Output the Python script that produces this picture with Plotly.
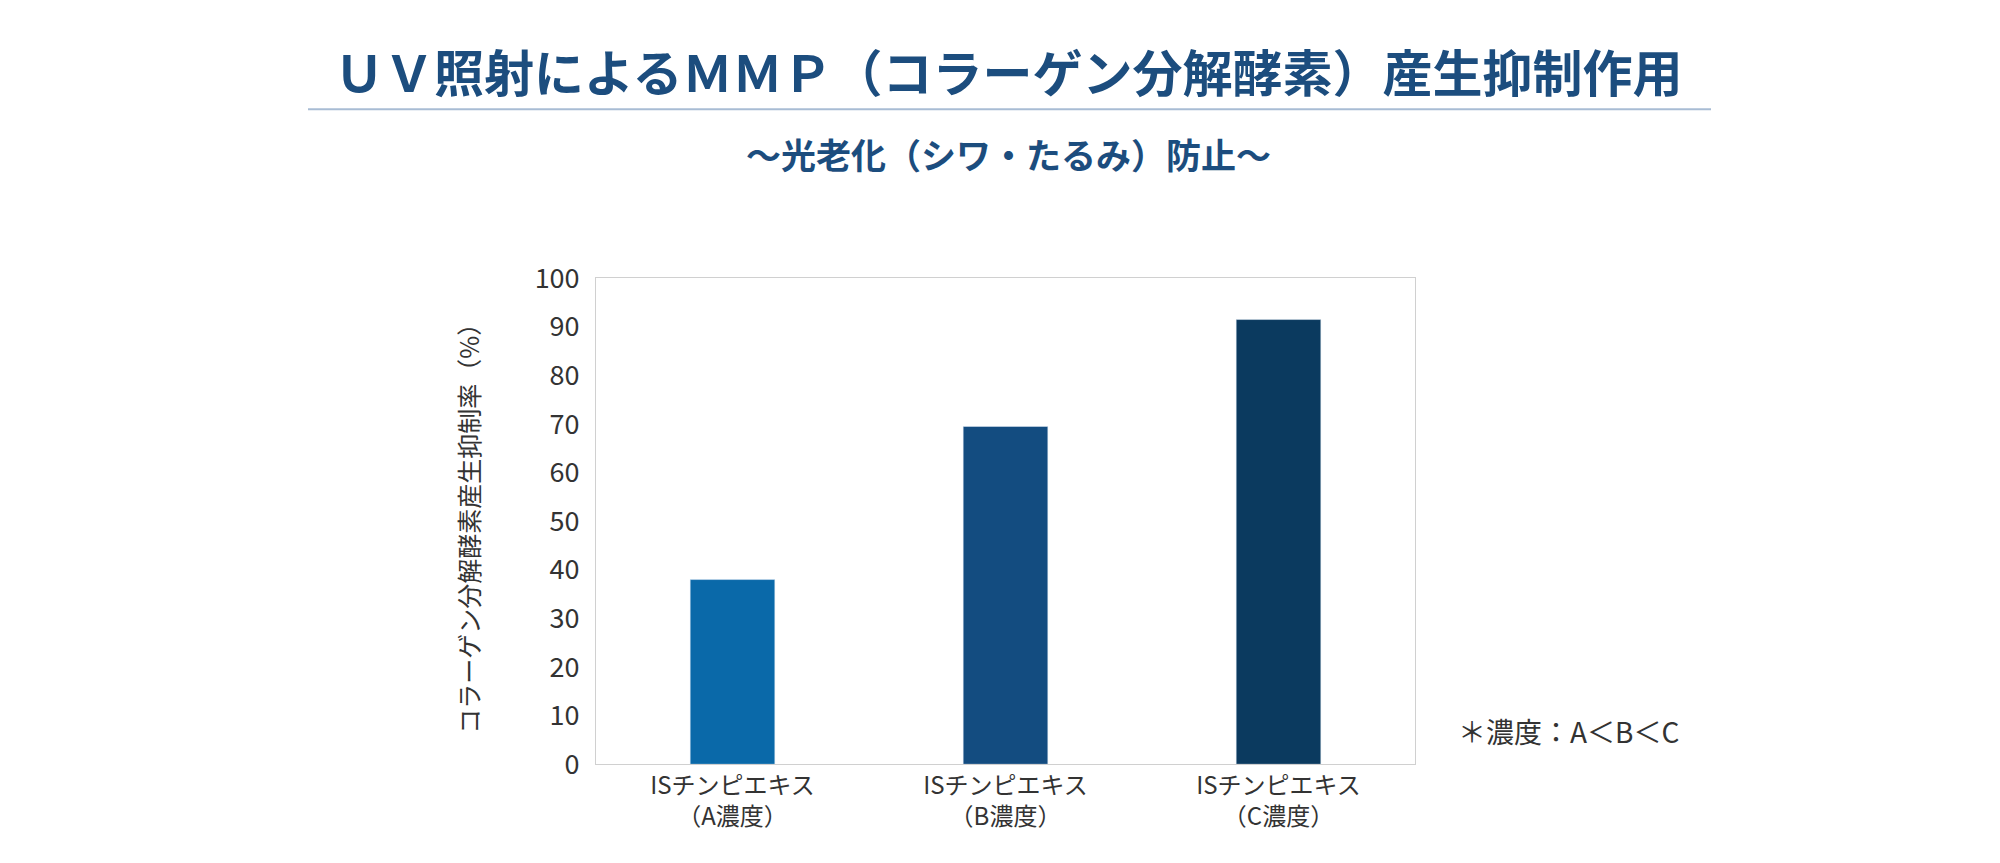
import plotly.graph_objects as go

categories = ["ISチンピエキス<br>（A濃度）", "ISチンピエキス<br>（B濃度）", "ISチンピエキス<br>（C濃度）"]
values = [38, 69.5, 91.5]
bar_colors = ["#0a69a9", "#134c80", "#0b3a5f"]
y_ticks = list(range(0, 101, 10))

FONT = "Noto Sans CJK JP"
W, H = 2000, 863

fig = go.Figure(go.Bar(
    x=categories, y=values, marker_color=bar_colors, width=0.31,
))

fig.update_layout(
    width=W, height=H,
    paper_bgcolor="white", plot_bgcolor="white",
    margin=dict(l=0, r=0, t=0, b=0),
    showlegend=False,
    font=dict(family=FONT, color="#333333"),
)
fig.update_xaxes(
    domain=[588 / W, 1407 / W],
    tickfont=dict(size=24, color="#333333"),
    showline=True, linecolor="#d0d0d0", mirror=True, ticks="",
)
fig.update_yaxes(
    domain=[1 - 769 / H, 1 - 260 / H],
    range=[0, 100], tickvals=y_ticks,
    tickfont=dict(size=27, color="#333333"),
    showgrid=False, showline=True, linecolor="#d0d0d0", mirror=True,
    zeroline=False, ticklen=10, ticks="outside", tickcolor="white",
)

fig.add_annotation(
    text="コラーゲン分解酵素産生抑制率（%）", textangle=-90,
    x=440 / W, y=1 - 516 / H, xref="paper", yref="paper",
    showarrow=False, font=dict(size=25, color="#333333"),
)
fig.add_annotation(
    text="<b>ＵＶ照射によるＭＭＰ（コラーゲン分解酵素）産生抑制作用</b>",
    x=0.5, y=1 - 42 / H, xref="paper", yref="paper", yanchor="middle",
    showarrow=False, font=dict(size=50, color="#1c4d7e"),
)
fig.add_shape(
    type="line", xref="paper", yref="paper",
    x0=300 / W, x1=1703 / W, y0=1 - 83 / H, y1=1 - 83 / H,
    line=dict(color="#a8bcd4", width=2),
)
fig.add_annotation(
    text="<b>～光老化（シワ・たるみ）防止～</b>",
    x=0.5, y=1 - 129 / H, xref="paper", yref="paper", yanchor="middle",
    showarrow=False, font=dict(size=35, color="#1c4d7e"),
)
fig.add_annotation(
    text="＊濃度：A＜B＜C",
    x=1448 / W, y=1 - 757 / H, xref="paper", yref="paper", xanchor="left",
    showarrow=False, font=dict(size=28, color="#333333"),
)

fig.write_html("out.html")
